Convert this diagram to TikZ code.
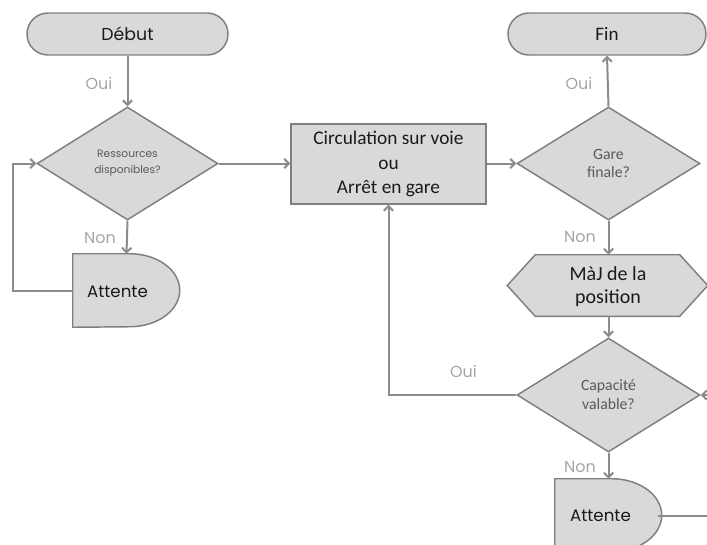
\documentclass[tikz,border=0pt]{standalone}
\usepackage{fontspec}
\setmainfont{Carlito}
\newfontfamily\gothic{Poppins}
\usetikzlibrary{arrows.meta,shapes.geometric}
\definecolor{fillg}{HTML}{D9D9D9}
\definecolor{edgeg}{HTML}{7F7F7F}
\definecolor{lineg}{HTML}{8C8C8C}
\definecolor{labg}{HTML}{A6A6A6}
\definecolor{txt}{HTML}{1A1A1A}
\definecolor{dtxt}{HTML}{595959}
\begin{document}
\begin{tikzpicture}[x=0.75pt,y=-0.75pt,
  sz/.style 2 args={minimum width=#1*0.75pt, minimum height=#2*0.75pt, inner sep=0pt},
  term/.style={draw=edgeg, fill=fillg, line width=1.1pt, rounded corners=15.7pt, text=txt},
  procbox/.style={draw=edgeg, fill=fillg, line width=1.1pt, text=txt, align=center},
  decision/.style={diamond, draw=edgeg, fill=fillg, line width=1.1pt, text=dtxt, align=center},
  outline/.style={draw=edgeg, fill=fillg, line width=1.1pt},
  conn/.style={draw=lineg, line width=1.5pt, -{Straight Barb[length=3.5pt,width=7pt]}},
  lab/.style={text=labg, font=\gothic\fontsize{12}{14}\selectfont},
  bigtext/.style={text=txt, align=center},
]
\useasboundingbox (0,0) rectangle (707,544);
\clip (0,0) rectangle (707,544);

% terminals
\node[term, sz={201}{42}, font=\gothic\fontsize{13}{15}\selectfont] (debut) at (127.5,34) {Début};
\node[term, sz={198}{42}, font=\fontsize{14.3}{16}\selectfont] (fin) at (607,34) {Fin};

% decisions
\node[decision, sz={181}{113}, font=\gothic\fontsize{8}{12}\selectfont] (d1) at (127.5,163.5) {Ressources\\disponibles?};
\node[decision, sz={183}{113}, font=\fontsize{11.8}{13.5}\selectfont] (d2) at (608.5,163.5) {Gare\\finale?};
\node[decision, sz={183}{114}, font=\fontsize{11.8}{14.2}\selectfont] (d3) at (608.5,395) {Capacité\\valable?};

% process
\node[procbox, sz={195}{80}, font=\fontsize{14.5}{18.4}\selectfont] (proc) at (388.5,164) {Circulation sur voie\\ou\\Arrêt en gare};

% hexagon
\node[sz={200}{61}] (hex) at (607.5,285.5) {};
\filldraw[outline] (hex.west) -- ([xshift=28*0.75pt]hex.north west) -- ([xshift=-28*0.75pt]hex.north east)
  -- (hex.east) -- ([xshift=-28*0.75pt]hex.south east) -- ([xshift=28*0.75pt]hex.south west) -- cycle;
\node[bigtext, font=\fontsize{15}{17.4}\selectfont] (hext) at (608,286.5) {MàJ de la\\position};

% delays
\node[sz={107}{73}] (att1) at (126.5,290.5) {};
\node[sz={107}{73}] (att2) at (608.5,515.5) {};
\filldraw[outline] (att1.north west) -- ++(57,0) arc[start angle=-90, end angle=90, x radius=50, y radius=36.5] -- (att1.south west) -- cycle;
\filldraw[outline] (att2.north west) -- ++(57,0) arc[start angle=-90, end angle=90, x radius=50, y radius=36.5] -- (att2.south west) -- cycle;
\node[text=txt, font=\gothic\fontsize{12.5}{15}\selectfont] (att1t) at (117.5,292) {Attente};
\node[text=txt, font=\gothic\fontsize{12.5}{15}\selectfont] (att2t) at (600.5,516) {Attente};

% helper coordinates
\coordinate (l1) at (13,290.5);
\coordinate (a2e) at (657.5,515.5);
\coordinate (r1) at (730,515.5);
\coordinate (r2) at (730,395);

% connectors
\draw[conn] (debut.south) -- (d1.north);
\draw[conn] (d1.south) -- (att1.north);
\draw[conn] (att1.west) -- (l1) |- (d1.west);
\draw[conn] (d1.east) -- (proc.west |- d1.east);
\draw[conn] (proc.east |- d2.west) -- (d2.west);
\draw[conn] (d2.north) -- (fin.south);
\draw[conn] (d2.south) -- (hex.north -| d2.south);
\draw[conn] (hex.south -| d3.north) -- (d3.north);
\draw[conn] (d3.west) -| (proc.south);
\draw[conn] (d3.south) -- (att2.north);
\draw[conn] (a2e) -- (r1) -- (r2) -- (d3.east);

% labels
\node[lab] (o1) at (99,83) {Oui};
\node[lab] (n1) at (100,238) {Non};
\node[lab] (o2) at (579,83) {Oui};
\node[lab] (n2) at (580,237) {Non};
\node[lab] (o3) at (463.5,371) {Oui};
\node[lab] (n3) at (580,467) {Non};
\end{tikzpicture}
\end{document}
